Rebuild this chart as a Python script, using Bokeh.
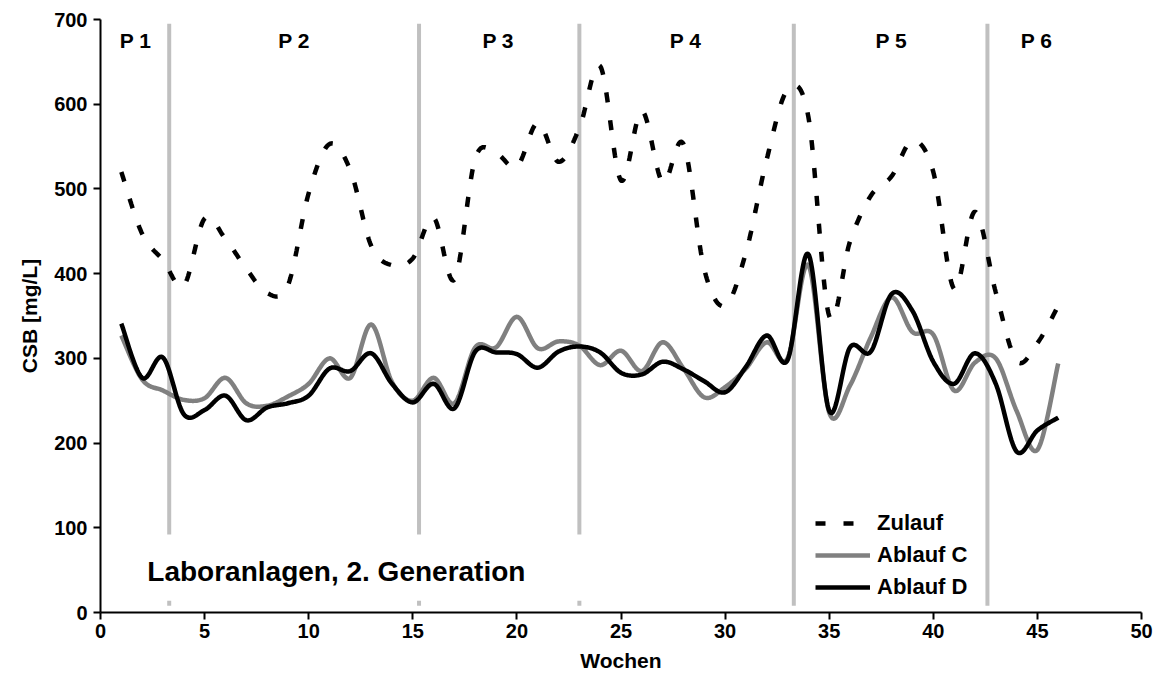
import numpy as np
from bokeh.plotting import figure
from bokeh.models import Range1d, FixedTicker, BoxAnnotation, Label, Legend, LegendItem
from bokeh.core.properties import value
from bokeh.embed import file_html
from bokeh.resources import INLINE

# ---------------- data ----------------
weeks = list(range(1, 47))
zulauf = [520, 447, 416, 386, 465, 441, 406, 377, 386, 495,
          553, 522, 433, 410, 418, 466, 393, 536, 542, 526,
          578, 532, 572, 645, 510, 592, 508, 553, 405, 362,
          425, 535, 617, 585, 350, 438, 492, 515, 557, 520,
          382, 473, 378, 297, 318, 362]
ablauf_c = [327, 275, 262, 251, 253, 277, 247, 244, 255, 270,
            300, 277, 340, 272, 250, 277, 247, 313, 313, 349,
            312, 320, 315, 292, 309, 285, 319, 288, 254, 266,
            288, 319, 300, 410, 236, 268, 325, 372, 331, 328,
            262, 295, 300, 238, 192, 294]
ablauf_d = [341, 277, 301, 234, 239, 256, 227, 242, 247, 256,
            288, 285, 306, 270, 248, 270, 241, 308, 307, 305,
            289, 308, 314, 307, 283, 281, 296, 287, 273, 260,
            290, 327, 298, 423, 238, 313, 308, 376, 356, 296,
            270, 306, 270, 190, 215, 230]
series_names = ["Zulauf", "Ablauf C", "Ablauf D"]
phase_labels = ["P 1", "P 2", "P 3", "P 4", "P 5", "P 6"]
phase_bounds = [3.3, 15.3, 23.0, 33.3, 42.6]
phase_label_x = [1.68, 9.3, 19.1, 28.1, 37.98, 44.96]
x_ticks = list(range(0, 51, 5))
y_ticks = list(range(0, 701, 100))
annotation_text = "Laboranlagen, 2. Generation"

FONT = "Liberation Sans"


def smooth(xs, ys, steps=24):
    """Excel-like smoothed line (Catmull-Rom Bezier) through the data points."""
    x = np.asarray(xs, float)
    y = np.asarray(ys, float)
    px = np.concatenate([[x[0]], x, [x[-1]]])
    py = np.concatenate([[y[0]], y, [y[-1]]])
    t = np.linspace(0, 1, steps, endpoint=False)
    ox, oy = [], []
    for i in range(1, len(px) - 2):
        x0, x1, x2, x3 = px[i - 1], px[i], px[i + 1], px[i + 2]
        y0, y1, y2, y3 = py[i - 1], py[i], py[i + 1], py[i + 2]
        cx1, cy1 = x1 + (x2 - x0) / 6, y1 + (y2 - y0) / 6
        cx2, cy2 = x2 - (x3 - x1) / 6, y2 - (y3 - y1) / 6
        a, b, c, d = (1 - t) ** 3, 3 * (1 - t) ** 2 * t, 3 * (1 - t) * t ** 2, t ** 3
        ox.extend(a * x1 + b * cx1 + c * cx2 + d * x2)
        oy.extend(a * y1 + b * cy1 + c * cy2 + d * y2)
    ox.append(x[-1])
    oy.append(y[-1])
    return ox, oy


p = figure(width=1162, height=693, output_backend="svg", toolbar_location=None,
           x_range=Range1d(0, 50), y_range=Range1d(0, 700),
           min_border_left=100, min_border_right=21, min_border_top=19, min_border_bottom=81)
p.outline_line_color = None
p.xgrid.visible = False
p.ygrid.visible = False
p.background_fill_color = "white"
p.border_fill_color = "white"

# phase separators
p.segment(x0=phase_bounds, y0=[8] * len(phase_bounds), x1=phase_bounds, y1=[695] * len(phase_bounds),
          line_color="#c0c0c0", line_width=4)

# phase labels
p.text(x=phase_label_x, y=[675] * len(phase_labels), text=phase_labels,
       text_font=value(FONT), text_font_style="bold", text_font_size="21px",
       text_align="center", text_baseline="middle", text_color="black")

zx, zy = smooth(weeks, zulauf)
cx, cy = smooth(weeks, ablauf_c)
dx, dy = smooth(weeks, ablauf_d)

r_z = p.line(zx, zy, line_color="black", line_width=4.5, line_dash="10 18")
r_c = p.line(cx, cy, line_color="#808080", line_width=4.5, line_join="round")
r_d = p.line(dx, dy, line_color="black", line_width=4.5, line_join="round")

# white box behind the annotation text (hides the separators)
p.add_layout(BoxAnnotation(left=1, right=27, bottom=14, top=92, fill_color="white",
                           fill_alpha=1.0, line_color=None))
p.add_layout(Label(x=2.25, y=48, text=annotation_text, text_font=FONT, text_font_style="bold",
                   text_font_size="28px", text_baseline="middle", text_align="left",
                   text_color="black"))

legend = Legend(items=[LegendItem(label=series_names[0], renderers=[r_z]),
                       LegendItem(label=series_names[1], renderers=[r_c]),
                       LegendItem(label=series_names[2], renderers=[r_d])],
                location=(715, 9), orientation="vertical")
legend.background_fill_alpha = 0
legend.border_line_color = None
legend.padding = 0
legend.margin = 0
legend.spacing = 0
legend.glyph_width = 55
legend.glyph_height = 32
legend.label_height = 32
legend.label_standoff = 7
legend.label_text_font = FONT
legend.label_text_font_style = "bold"
legend.label_text_font_size = "22px"
legend.label_text_color = "black"
p.add_layout(legend, "center")

for ax in (p.xaxis[0], p.yaxis[0]):
    ax.axis_line_color = "black"
    ax.axis_line_width = 2
    ax.major_tick_line_color = "black"
    ax.major_tick_line_width = 2
    ax.major_tick_in = 0
    ax.major_tick_out = 7
    ax.minor_tick_line_color = None
    ax.major_label_text_font = FONT
    ax.major_label_text_font_style = "bold"
    ax.major_label_text_font_size = "20px"
    ax.major_label_text_color = "black"
    ax.axis_label_text_font = FONT
    ax.axis_label_text_font_style = "bold"
    ax.axis_label_text_font_size = "21px"
    ax.axis_label_text_color = "black"

p.xaxis[0].ticker = FixedTicker(ticks=x_ticks)
p.yaxis[0].ticker = FixedTicker(ticks=y_ticks)
p.xaxis[0].axis_label = "Wochen"
p.yaxis[0].axis_label = "CSB [mg/L]"
p.xaxis[0].major_label_standoff = 4
p.yaxis[0].major_label_standoff = 6
p.xaxis[0].axis_label_standoff = 8
p.yaxis[0].axis_label_standoff = 10

open("out.html", "w").write(file_html(p, INLINE))
